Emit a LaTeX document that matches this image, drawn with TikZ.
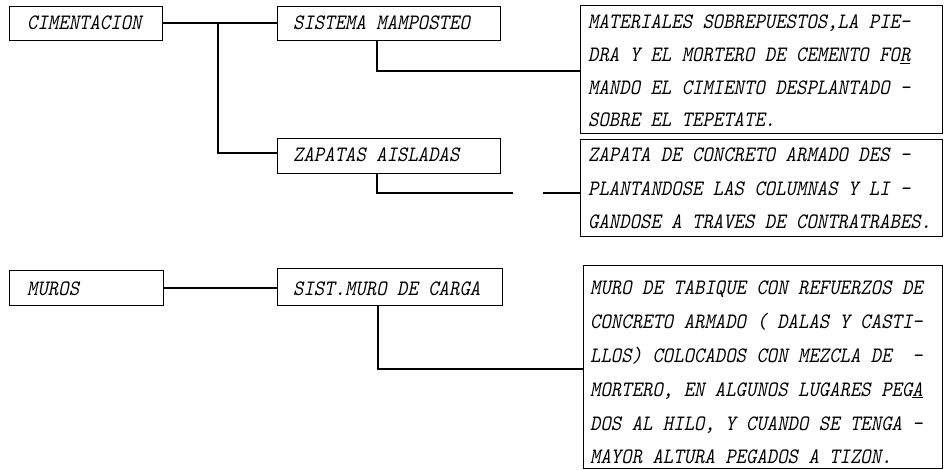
\documentclass[tikz,border=0pt]{standalone}
\usepackage{fontspec}
\newfontfamily\hand{lmmono10-regular.otf}[FakeSlant=0.2, FakeStretch=0.9]
\newcommand\hf{\hand\fontsize{22}{26}\selectfont}
\begin{document}
\begin{tikzpicture}[x=1pt,y=-1pt,
  box/.style={draw, line width=1.2pt, inner sep=0pt, anchor=north west},
  lbl/.style={font=\hf, anchor=base west, inner sep=0pt},
  conn/.style={line width=1.2pt}]
\useasboundingbox (0,0) rectangle (944,470);
% boxes
\node[box, minimum width=153pt, minimum height=34pt] (cim) at (9,6) {};
\node[box, minimum width=223pt, minimum height=34pt] (sis) at (277,6) {};
\node[box, minimum width=223pt, minimum height=35pt] (zap) at (277,138) {};
\node[box, minimum width=154pt, minimum height=35pt] (mur) at (9,270) {};
\node[box, minimum width=225pt, minimum height=37pt] (smc) at (277,268) {};
\node[box, minimum width=362pt, minimum height=128pt] (d1) at (580,5) {};
\node[box, minimum width=362pt, minimum height=97pt] (d2) at (580,139) {};
\node[box, minimum width=359pt, minimum height=203pt] (d3) at (583,265) {};
% labels
\node[lbl] (cimt) at (27,30) {CIMENTACION};
\node[lbl] (sist) at (293,30) {SISTEMA MAMPOSTEO};
\node[lbl] (zapt) at (293,162) {ZAPATAS AISLADAS};
\node[lbl] (murt) at (27,295) {MUROS};
\node[lbl] (smct) at (293,295) {SIST.MURO DE CARGA};
% description 1
\node[lbl] (d1a) at (588,29) {MATERIALES SOBREPUESTOS,LA PIE-};
\node[lbl] (d1b) at (588,62) {DRA Y EL MORTERO DE CEMENTO FO\underline{R}};
\node[lbl] (d1c) at (588,95) {MANDO EL CIMIENTO DESPLANTADO -};
\node[lbl] (d1d) at (588,127) {SOBRE EL TEPETATE.};
% description 2
\node[lbl] (d2a) at (588,162) {ZAPATA DE CONCRETO ARMADO DES -};
\node[lbl] (d2b) at (588,196) {PLANTANDOSE LAS COLUMNAS Y LI -};
\node[lbl] (d2c) at (588,229) {GANDOSE A TRAVES DE CONTRATRABES.};
% description 3
\node[lbl] (d3a) at (590,294) {MURO DE TABIQUE CON REFUERZOS DE};
\node[lbl] (d3b) at (590,328) {CONCRETO ARMADO ( DALAS Y CASTI-};
\node[lbl] (d3c) at (590,362) {LLOS) COLOCADOS CON MEZCLA DE\ \ -};
\node[lbl] (d3d) at (590,396) {MORTERO, EN ALGUNOS LUGARES PEG\underline{A}};
\node[lbl] (d3e) at (590,430) {DOS AL HILO, Y CUANDO SE TENGA -};
\node[lbl] (d3f) at (590,463) {MAYOR ALTURA PEGADOS A TIZON.};
% connectors
\coordinate (j1) at (218,23);
\draw[conn] (cim.east |- j1) -- (sis.west |- j1);
\draw[conn] (j1) |- (zap.west |- 0,153);
\coordinate (s1) at (377,40);
\draw[conn] (s1) |- (d1.west |- 0,71);
\coordinate (z1) at (377,173);
\coordinate (z2) at (513,193);
\coordinate (z3) at (543,193);
\draw[conn] (z1) |- (z2);
\draw[conn] (z3) -- (d2.west |- z3);
\draw[conn] (mur.east |- 0,288) -- (smc.west |- 0,288);
\coordinate (m1) at (378,305);
\draw[conn] (m1) |- (d3.west |- 0,369);
\end{tikzpicture}
\end{document}
